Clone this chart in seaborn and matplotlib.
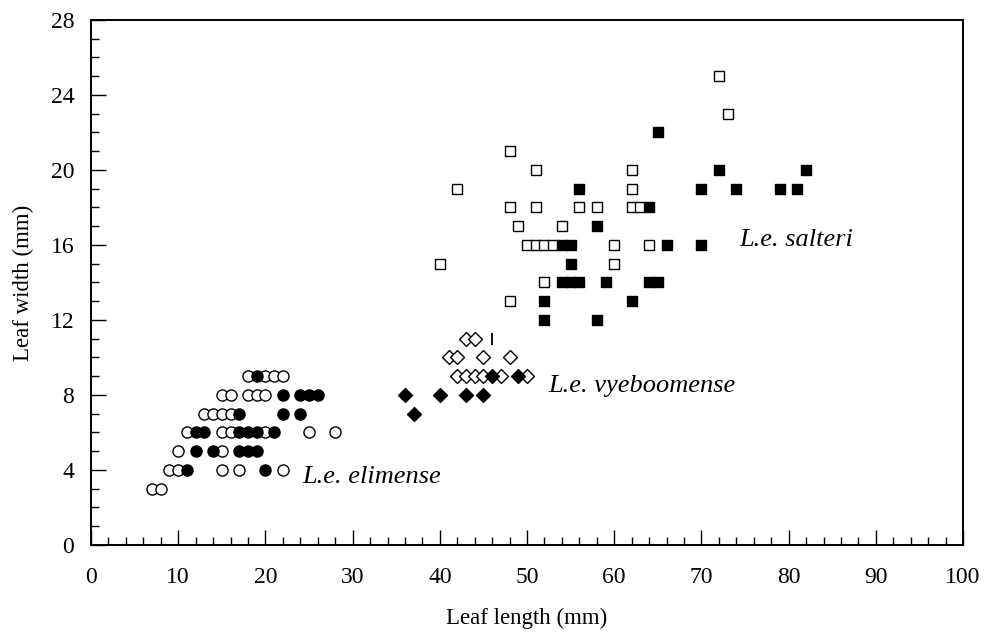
import matplotlib
matplotlib.use("Agg")
import matplotlib.pyplot as plt
import seaborn as sns
import pandas as pd
from matplotlib.ticker import MultipleLocator

# ---- data ----
elim_open_x = [7, 8, 9, 10, 15, 17, 22, 10, 15, 11, 15, 16, 20, 25, 28, 13, 14, 15, 16, 15, 16, 18, 19, 20, 18, 20, 21, 22]
elim_open_y = [3, 3, 4, 4, 4, 4, 4, 5, 5, 6, 6, 6, 6, 6, 6, 7, 7, 7, 7, 8, 8, 8, 8, 8, 9, 9, 9, 9]
elim_fill_x = [11, 20, 12, 14, 17, 18, 19, 12, 13, 17, 18, 19, 21, 17, 22, 24, 22, 24, 25, 26, 19]
elim_fill_y = [4, 4, 5, 5, 5, 5, 5, 6, 6, 6, 6, 6, 6, 7, 7, 7, 8, 8, 8, 8, 9]

vye_open_x = [43, 44, 41, 42, 45, 48, 42, 43, 44, 45, 47, 50]
vye_open_y = [11, 11, 10, 10, 10, 10, 9, 9, 9, 9, 9, 9]
vye_fill_x = [46, 49, 36, 40, 43, 45, 37]
vye_fill_y = [9, 9, 8, 8, 8, 8, 7]
vye_bar_x = [46]
vye_bar_y = [11]

salt_open_x = [72, 73, 48, 51, 62, 42, 62, 48, 51, 56, 58, 62, 63, 49, 54, 50, 51, 52, 53, 60, 64, 40, 60, 52, 48]
salt_open_y = [25, 23, 21, 20, 20, 19, 19, 18, 18, 18, 18, 18, 18, 17, 17, 16, 16, 16, 16, 16, 16, 15, 15, 14, 13]
salt_fill_x = [65, 72, 82, 56, 70, 74, 79, 81, 64, 58, 54, 55, 66, 70, 55, 54, 55, 56, 59, 64, 65, 52, 62, 52, 58]
salt_fill_y = [22, 20, 20, 19, 19, 19, 19, 19, 18, 17, 16, 16, 16, 16, 15, 14, 14, 14, 14, 14, 14, 13, 13, 12, 12]

labels = ["L.e. salteri", "L.e. vyeboomense", "L.e. elimense"]

# ---- style ----
sns.set_style("ticks")
plt.rcParams['font.family'] = ['Liberation Serif', 'DejaVu Serif']
for k in ["text.color", "axes.labelcolor", "xtick.color", "ytick.color", "axes.edgecolor"]:
    plt.rcParams[k] = "black"

fig = plt.figure(figsize=(9.85, 6.34), dpi=100)
ax = fig.add_axes([0.0924, 0.1404, 0.8853, 0.8281])

def pts(x, y):
    return pd.DataFrame({"x": x, "y": y})

common = dict(ax=ax, x="x", y="y", legend=False, zorder=3)
sns.scatterplot(data=pts(elim_open_x, elim_open_y), marker="o", s=64, facecolor="white", edgecolor="black", linewidth=1.0, **common)
sns.scatterplot(data=pts(elim_fill_x, elim_fill_y), marker="o", s=64, facecolor="black", edgecolor="black", linewidth=1.0, **common)
sns.scatterplot(data=pts(vye_open_x, vye_open_y), marker="D", s=50, facecolor="white", edgecolor="black", linewidth=1.0, **common)
sns.scatterplot(data=pts(vye_fill_x, vye_fill_y), marker="D", s=50, facecolor="black", edgecolor="black", linewidth=1.0, **common)
sns.scatterplot(data=pts(vye_bar_x, vye_bar_y), marker="|", s=70, color="black", linewidth=1.3, **common)
sns.scatterplot(data=pts(salt_open_x, salt_open_y), marker="s", s=56, facecolor="white", edgecolor="black", linewidth=1.0, **common)
sns.scatterplot(data=pts(salt_fill_x, salt_fill_y), marker="s", s=56, facecolor="black", edgecolor="black", linewidth=1.0, **common)

ax.set_xlim(0, 100)
ax.set_ylim(0, 28)
ax.xaxis.set_major_locator(MultipleLocator(10))
ax.xaxis.set_minor_locator(MultipleLocator(2))
ax.yaxis.set_major_locator(MultipleLocator(4))
ax.yaxis.set_minor_locator(MultipleLocator(1))
ax.tick_params(which="major", direction="in", length=11, width=1.0, labelsize=17, colors="black")
ax.tick_params(axis="x", which="major", pad=16)
ax.tick_params(axis="y", which="major", pad=12)
ax.tick_params(which="minor", direction="in", length=6, width=1.0)
for sp in ax.spines.values():
    sp.set_visible(True)
    sp.set_linewidth(1.4)
    sp.set_color("black")

ax.set_xlabel("Leaf length (mm)", fontsize=16.5, labelpad=14)
ax.set_ylabel("Leaf width (mm)", fontsize=16.5, labelpad=12)

ax.text(74.4, 16.27, labels[0], fontsize=19, style="italic", ha="left", va="center")
ax.text(52.4, 8.48, labels[1], fontsize=19, style="italic", ha="left", va="center")
ax.text(24.2, 3.63, labels[2], fontsize=19, style="italic", ha="left", va="center")

fig.savefig("out.png", dpi=100)
